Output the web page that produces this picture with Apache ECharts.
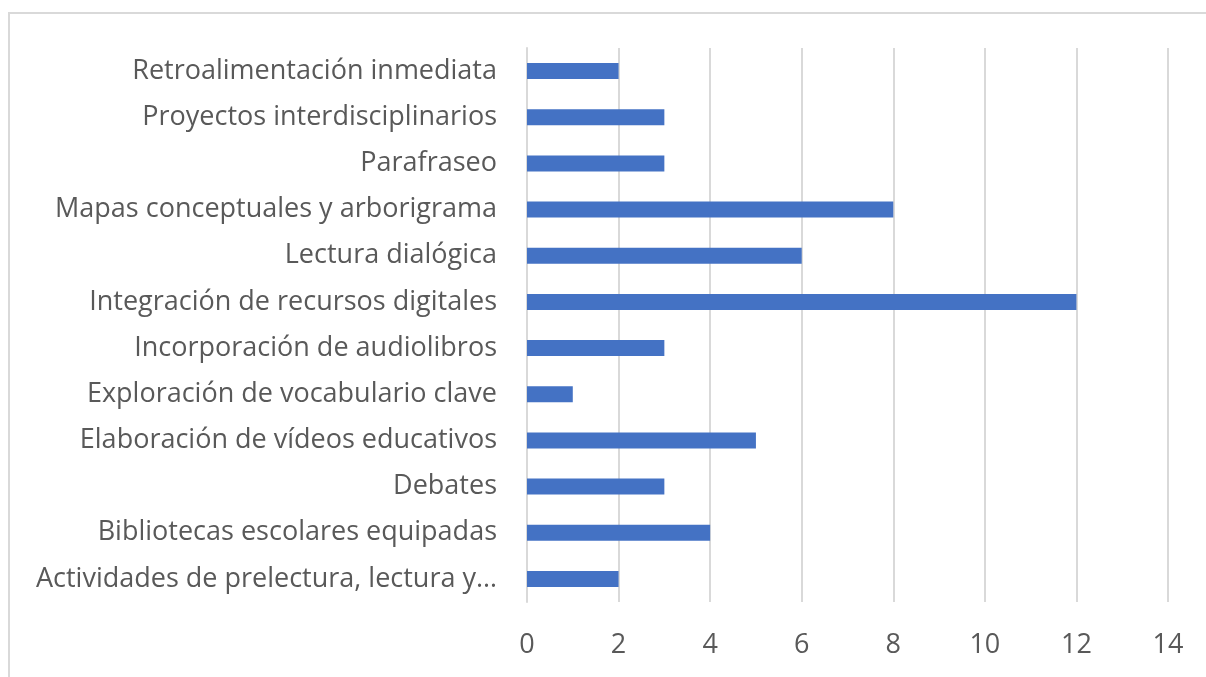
<!DOCTYPE html>
<html><head><meta charset="utf-8">
<script src="https://cdn.jsdelivr.net/npm/echarts@6/dist/echarts.min.js"></script>
<style>html,body{margin:0;padding:0;background:#fff}#c{width:1206px;height:677px}</style>
</head><body><div id="c"></div>
<script>
const categories = [
  "Actividades de prelectura, lectura y…",
  "Bibliotecas escolares equipadas",
  "Debates",
  "Elaboración de vídeos educativos",
  "Exploración de vocabulario clave",
  "Incorporación de audiolibros",
  "Integración de recursos digitales",
  "Lectura dialógica",
  "Mapas conceptuales y arborigrama",
  "Parafraseo",
  "Proyectos interdisciplinarios",
  "Retroalimentación inmediata"
];
const values = [2, 4, 3, 5, 1, 3, 12, 6, 8, 3, 3, 2];
const axisMin = 0, axisMax = 14, axisStep = 2;

const chart = echarts.init(document.getElementById('c'));
const font = "'Open Sans', 'Noto Sans', sans-serif";
chart.setOption({
  animation: false,
  graphic: [{
    type: 'rect', shape: {x: 9, y: 13, width: 1220, height: 720},
    style: {fill: 'none', stroke: '#d9d9d9', lineWidth: 2}, silent: true
  }],
  grid: {left: 527, right: 38, top: 48, bottom: 75, containLabel: false},
  xAxis: {
    type: 'value', min: axisMin, max: axisMax, interval: axisStep,
    axisLine: {show: false}, axisTick: {show: false},
    splitLine: {lineStyle: {color: '#d9d9d9', width: 2}},
    axisLabel: {color: '#595959', fontSize: 27, fontFamily: font, margin: 30}
  },
  yAxis: {
    type: 'category', data: categories,
    axisLine: {show: true, lineStyle: {color: '#d9d9d9', width: 2}},
    axisTick: {show: false},
    axisLabel: {color: '#595959', fontSize: 27, fontFamily: font, margin: 30}
  },
  series: [{
    type: 'bar', data: values, barWidth: 16,
    itemStyle: {color: '#4472c4'}
  }]
});
</script></body></html>
